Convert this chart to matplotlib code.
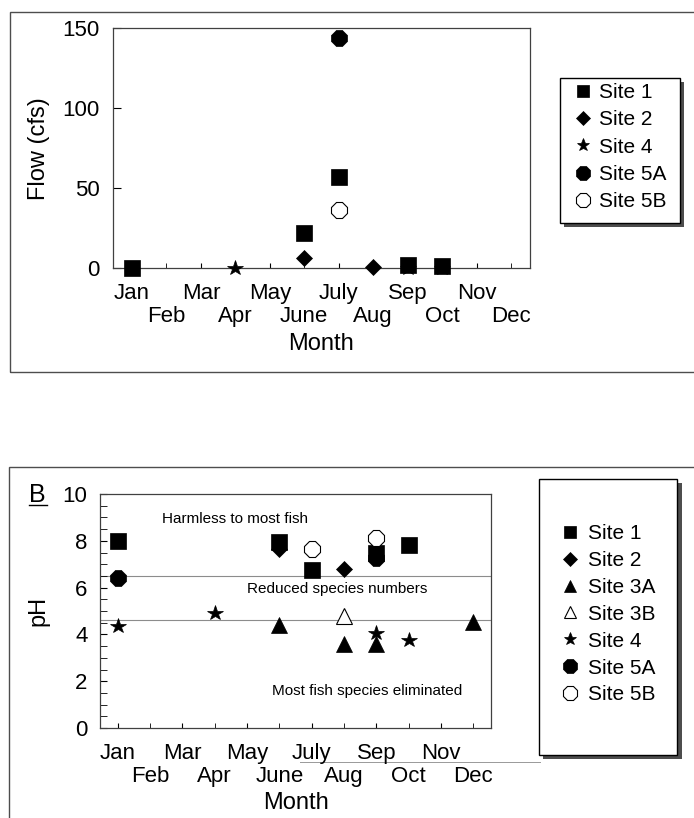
"""Flow and pH per month at the sampling sites (two panels)."""

import matplotlib.pyplot as plt
from matplotlib.lines import Line2D
from matplotlib.patches import Rectangle

plt.rcParams['font.family'] = ['Liberation Sans', 'DejaVu Sans']

months = ["Jan", "Feb", "Mar", "Apr", "May", "June",
          "July", "Aug", "Sep", "Oct", "Nov", "Dec"]

# Panel A: flow (cfs), month number -> value
flow_site1_month = [1, 6, 7, 9, 10]
flow_site1 = [0, 22, 57, 2, 1.5]
flow_site2_month = [6, 8]
flow_site2 = [6, 0.5]
flow_site4_month = [4, 9, 10]
flow_site4 = [0, 0, 0]
flow_site5a_month = [7]
flow_site5a = [144]
flow_site5b_month = [7]
flow_site5b = [36]

# Panel B: pH
ph_site1_month = [1, 6, 7, 9, 10]
ph_site1 = [8.0, 7.95, 6.75, 7.5, 7.8]
ph_site2_month = [6, 8]
ph_site2 = [7.65, 6.8]
ph_site3a_month = [6, 8, 9, 12]
ph_site3a = [4.4, 3.6, 3.6, 4.55]
ph_site3b_month = [8]
ph_site3b = [4.8]
ph_site4_month = [1, 4, 9, 10]
ph_site4 = [4.35, 4.9, 4.05, 3.75]
ph_site5a_month = [1, 9]
ph_site5a = [6.4, 7.25]
ph_site5b_month = [7, 9]
ph_site5b = [7.65, 8.1]

ph_limits = [6.5, 4.6]
ph_zone_labels = ["Harmless to most fish", "Reduced species numbers",
                  "Most fish species eliminated"]
ph_zone_x = [4.63, 7.8, 8.73]
ph_zone_y = [8.93, 5.94, 1.58]

# marker, size, filled
styles = {
    "Site 1": ("s", 11, True),
    "Site 2": ("D", 8, True),
    "Site 3A": ("^", 11, True),
    "Site 3B": ("^", 11, False),
    "Site 4": ("*", 11.5, True),
    "Site 5A": ("8", 12, True),
    "Site 5B": ("8", 12, False),
}

W, H = 694, 818
fig = plt.figure(figsize=(W / 100, H / 100), dpi=100)


def fx(x):
    return x / W


def fy(y):
    return 1 - y / H


def box(x0, y0, x1, y1, **kw):
    fig.add_artist(Rectangle((fx(x0), fy(y1)), fx(x1) - fx(x0), fy(y0) - fy(y1),
                             transform=fig.transFigure, zorder=-2, **kw))


def hline(x0, x1, y, **kw):
    fig.add_artist(Line2D([fx(x0), fx(x1)], [fy(y), fy(y)],
                          transform=fig.transFigure, zorder=-2, **kw))


def plot_site(ax, name, x, y):
    marker, ms, filled = styles[name]
    ax.plot(x, y, linestyle="none", marker=marker, markersize=ms,
            markerfacecolor="black" if filled else "white",
            markeredgecolor="black", markeredgewidth=0.5 if filled else 0.8,
            clip_on=False, zorder=3, label=name)


def month_axis(ax):
    ax.set_xlim(0.45, 12.55)
    ax.set_xticks(range(1, 13, 2))
    ax.set_xticklabels(months[0::2])
    ax.set_xticks(range(2, 13, 2), minor=True)
    ax.set_xticklabels(months[1::2], minor=True)
    ax.tick_params(axis="x", which="major", direction="in", length=3.5,
                   pad=11, labelsize=16)
    ax.tick_params(axis="x", which="minor", direction="in", length=3.5,
                   pad=27.5, labelsize=16)
    for s in ax.spines.values():
        s.set_linewidth(0.9)
        s.set_color("0.25")


# outer panel frames (scanned figure)
box(10, 12, 720, 372, facecolor="none", edgecolor="0.3", linewidth=1.0)
box(9, 467, 720, 840, facecolor="none", edgecolor="0.3", linewidth=1.0)
hline(300, 540, 762, color="0.6", linewidth=0.7)

# ---- panel A ----
ax1 = fig.add_axes([fx(113), fy(268), fx(530) - fx(113), fy(28) - fy(268)])
month_axis(ax1)
ax1.set_ylim(0, 150)
ax1.set_yticks([0, 50, 100, 150])
ax1.tick_params(axis="y", direction="in", length=6, pad=9.5, labelsize=16)
ax1.tick_params(right=False, top=False)

plot_site(ax1, "Site 1", flow_site1_month, flow_site1)
plot_site(ax1, "Site 2", flow_site2_month, flow_site2)
plot_site(ax1, "Site 4", flow_site4_month, flow_site4)
plot_site(ax1, "Site 5A", flow_site5a_month, flow_site5a)
plot_site(ax1, "Site 5B", flow_site5b_month, flow_site5b)

fig.text(fx(39), fy(149), "Flow (cfs)", rotation=90, ha="center",
         va="center", fontsize=17)
fig.text(fx(321), fy(350), "Month", ha="center", va="baseline", fontsize=17)

box(564, 82, 684, 227, facecolor="0.3", edgecolor="none")
box(560, 78, 680, 223, facecolor="white", edgecolor="black", linewidth=1.0)
ax1.legend(loc="upper left", bbox_to_anchor=(fx(575), fy(83)),
           bbox_transform=fig.transFigure, frameon=False, fontsize=15,
           handlelength=0.8, handletextpad=0.35, labelspacing=0.4,
           borderpad=0, borderaxespad=0, markerscale=0.85)

# ---- panel B ----
ax2 = fig.add_axes([fx(100), fy(728), fx(491) - fx(100), fy(494) - fy(728)])
month_axis(ax2)
ax2.set_ylim(0, 10)
ax2.set_yticks(range(0, 11, 2))
ax2.set_yticks([v / 2 for v in range(0, 21)], minor=True)
ax2.tick_params(axis="y", which="both", direction="in", length=5, pad=9,
                labelsize=16)
ax2.tick_params(right=False, top=False)

for lim in ph_limits:
    ax2.axhline(lim, color="0.55", linewidth=0.8, zorder=1)
for label, x, y in zip(ph_zone_labels, ph_zone_x, ph_zone_y):
    ax2.text(x, y, label, ha="center", va="center", fontsize=11)

plot_site(ax2, "Site 1", ph_site1_month, ph_site1)
plot_site(ax2, "Site 2", ph_site2_month, ph_site2)
plot_site(ax2, "Site 3A", ph_site3a_month, ph_site3a)
plot_site(ax2, "Site 3B", ph_site3b_month, ph_site3b)
plot_site(ax2, "Site 4", ph_site4_month, ph_site4)
plot_site(ax2, "Site 5A", ph_site5a_month, ph_site5a)
plot_site(ax2, "Site 5B", ph_site5b_month, ph_site5b)

fig.text(fx(38), fy(611), "pH", rotation=90, ha="center", va="center",
         fontsize=17)
fig.text(fx(296), fy(809), "Month", ha="center", va="baseline", fontsize=17)
fig.text(fx(37.5), fy(502), "B", ha="center", va="baseline", fontsize=18)
hline(29, 47, 505, color="black", linewidth=1.0)

box(543, 483, 682, 759, facecolor="0.3", edgecolor="none")
box(539, 479, 677, 755, facecolor="white", edgecolor="black", linewidth=1.0)
ax2.legend(loc="upper left", bbox_to_anchor=(fx(562), fy(524)),
           bbox_transform=fig.transFigure, frameon=False, fontsize=15,
           handlelength=0.8, handletextpad=0.45, labelspacing=0.38,
           borderpad=0, borderaxespad=0, markerscale=0.85)

fig.savefig("out.png", dpi=100)
